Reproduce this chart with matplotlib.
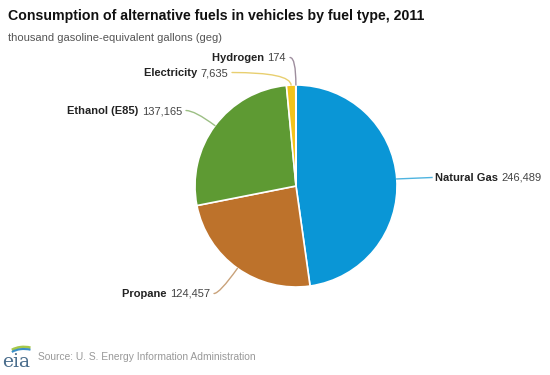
import numpy as np
import matplotlib
matplotlib.use("Agg")
import matplotlib.pyplot as plt
from matplotlib.patches import Arc

plt.rcParams['font.family'] = ['Liberation Sans', 'DejaVu Sans']

categories = ["Natural Gas", "Propane", "Ethanol (E85)", "Electricity", "Hydrogen"]
values = [246489, 124457, 137165, 7635, 174]
value_labels = ["246,489", "124,457", "137,165", "7,635", "174"]
colors = ["#0a96d6", "#bd722b", "#5e9a33", "#f2c31c", "#8a7a8a"]
line_colors = ["#4fb4e0", "#c9a27a", "#9cbf84", "#e8cf70", "#9e8e9e"]

W, H = 550, 375
fig = plt.figure(figsize=(5.5, 3.75), dpi=100)
ax = fig.add_axes([0, 0, 1, 1])

cx, cy, R = 296, 375 - 186, 101
wedges, _ = ax.pie(values, colors=colors, startangle=90, counterclock=False,
                   center=(cx, cy), radius=R, frame=True,
                   wedgeprops=dict(edgecolor='white', linewidth=1.2))
ax.set_xlim(0, W)
ax.set_ylim(0, H)
ax.set_aspect('equal')
ax.axis('off')

# label anchor: (x, baseline-y from top, side)
label_pos = {
    "Natural Gas": (435, 181, 'left'),
    "Propane": (210, 297, 'right'),
    "Ethanol (E85)": (182, 114, 'right'),
    "Electricity": (228, 76, 'right'),
    "Hydrogen": (286, 61, 'right'),
}

fs = 8
for i, (w, cat) in enumerate(zip(wedges, categories)):
    mid_deg = (w.theta1 + w.theta2) / 2
    mid = np.deg2rad(mid_deg)
    ex, ey = cx + R * np.cos(mid), cy + R * np.sin(mid)
    lx, ly_top, side = label_pos[cat]
    ly = H - ly_top
    line_y = ly + 3.5
    if side == 'left':
        t = ax.text(lx, ly, cat + " ", fontsize=fs, fontweight='bold', ha='left',
                    va='baseline', color='#222222')
        fig.canvas.draw()
        bb = t.get_window_extent().transformed(ax.transData.inverted())
        ax.text(bb.x1, ly, value_labels[i], fontsize=fs, ha='left', va='baseline', color='#444444')
        ax.plot([ex, lx - 3], [ey, line_y], color=line_colors[i], lw=1)
    else:
        t = ax.text(lx, ly, value_labels[i], fontsize=fs, ha='right', va='baseline', color='#444444')
        fig.canvas.draw()
        bb = t.get_window_extent().transformed(ax.transData.inverted())
        ax.text(bb.x0, ly, cat + " ", fontsize=fs, fontweight='bold', ha='right',
                va='baseline', color='#222222')
        sx = lx + 4
        ax.annotate("", xy=(ex, ey), xytext=(sx, line_y),
                    arrowprops=dict(arrowstyle='-', color=line_colors[i], lw=1,
                                    connectionstyle=f"angle3,angleA=0,angleB={mid_deg}",
                                    shrinkA=0, shrinkB=0))

# titles
fig.text(8 / W, 1 - 16 / H, "Consumption of alternative fuels in vehicles by fuel type, 2011",
         fontsize=10.2, fontweight='bold', ha='left', va='center', color='#111111')
fig.text(8 / W, 1 - 38 / H, "thousand gasoline-equivalent gallons (geg)",
         fontsize=8.0, ha='left', va='center', color='#555555')

# source & logo
fig.text(38 / W, 1 - 357 / H, "Source: U. S. Energy Information Administration",
         fontsize=7.4, ha='left', va='center', color='#999999')
ax.text(2, H - 362, "eia", fontsize=13.5, family='DejaVu Serif', color='#4a6d8c',
        ha='left', va='center')
ax.add_patch(Arc((24, H - 357), 34, 20, theta1=55, theta2=150, color='#a6c84a', lw=2))
ax.add_patch(Arc((24, H - 359), 34, 20, theta1=55, theta2=150, color='#3a8fc8', lw=1.5))

fig.savefig("out.png", dpi=100, facecolor='white')
